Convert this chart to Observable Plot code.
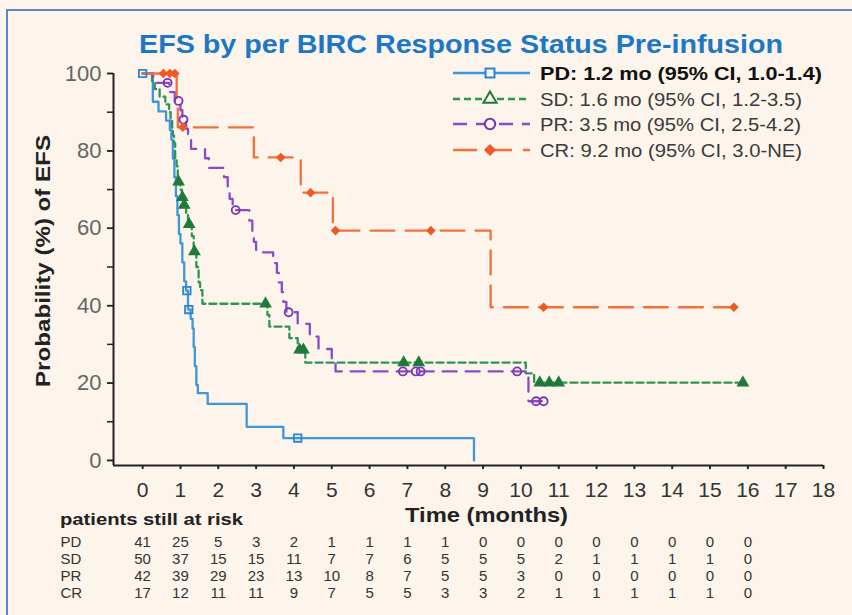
<!DOCTYPE html>
<html><head><meta charset="utf-8">
<script src="https://cdn.jsdelivr.net/npm/d3@7"></script>
<script src="https://cdn.jsdelivr.net/npm/@observablehq/plot@0.6"></script>
<style>
html,body{margin:0;padding:0;background:#fdf4eb;}
#wrap{position:relative;width:852px;height:615px;overflow:hidden;background:#fdf4eb;font-family:"Liberation Sans",Arial,sans-serif;}
#border{position:absolute;left:6px;top:9px;width:900px;height:700px;border-left:2px solid #5a86c3;border-top:2px solid #5a86c3;}
#main{position:absolute;left:0;top:0;}
#risk{position:absolute;left:0;top:530px;}
#overlay{position:absolute;left:0;top:0;pointer-events:none;}
</style>
</head><body>
<div id="wrap">
  <div id="border"></div>
  <div id="main"></div>
  <div id="risk"></div>
  <svg id="overlay" width="852" height="615"></svg>
</div>
<script>
// ---------- data ----------
const groups = ["PD", "SD", "PR", "CR"];
const legendLabels = [
  "PD: 1.2 mo (95% CI, 1.0-1.4)",
  "SD: 1.6 mo (95% CI, 1.2-3.5)",
  "PR: 3.5 mo (95% CI, 2.5-4.2)",
  "CR: 9.2 mo (95% CI, 3.0-NE)"
];
const titleText = "EFS by per BIRC Response Status Pre-infusion";
const yTitle = "Probability (%) of EFS";
const xTitle = "Time (months)";
const riskTitle = "patients still at risk";

// Kaplan-Meier step points (time in months, survival %)
const pdTime = [0, 0.27, 0.42, 0.62, 0.72, 0.76, 0.8, 0.84, 0.88, 0.92, 0.96, 1.0, 1.05, 1.1, 1.15, 1.2, 1.27, 1.32, 1.35, 1.38, 1.42, 1.46, 1.72, 2.75, 3.72, 8.76];
const pdSurv = [100, 92.7, 90.2, 87.8, 85.4, 82.9, 78.0, 73.2, 68.3, 63.4, 58.5, 56.1, 51.2, 46.3, 43.9, 39.0, 36.6, 34.1, 29.3, 24.4, 19.5, 17.4, 14.6, 8.7, 5.8, 0];
const pdCensTime = [0, 1.17, 1.22, 4.1];
const pdCensSurv = [100, 43.9, 39.0, 5.8];

const sdTime = [0, 0.25, 0.32, 0.45, 0.6, 0.7, 0.74, 0.78, 0.8, 0.83, 0.86, 0.9, 0.93, 1.0, 1.04, 1.08, 1.15, 1.2, 1.3, 1.35, 1.42, 1.48, 1.52, 1.58, 3.3, 3.35, 3.88, 4.1, 4.3, 10.13, 10.35, 15.87];
const sdSurv = [100, 98, 96, 94, 92, 90, 88, 86, 84, 82, 78, 76, 72, 70, 68, 66, 64, 61, 58, 54, 50, 46, 44, 40.5, 37.6, 34.6, 31.6, 28.6, 25.3, 22.5, 20.1, 20.1];
const sdCensTime = [0.95, 1.05, 1.1, 1.23, 1.37, 3.25, 4.15, 4.25, 6.9, 7.3, 10.5, 10.75, 11.0, 15.87];
const sdCensSurv = [72, 68, 66, 61, 54, 40.5, 28.6, 28.6, 25.3, 25.3, 20.1, 20.1, 20.1, 20.1];

const prTime = [0, 0.28, 0.7, 0.85, 1.0, 1.05, 1.15, 1.2, 1.28, 1.65, 1.75, 2.15, 2.25, 2.3, 2.38, 2.82, 2.9, 2.94, 3.0, 3.45, 3.55, 3.6, 3.68, 3.72, 3.8, 4.1, 4.42, 4.65, 5.0, 5.1, 10.2, 10.6];
const prSurv = [100, 97.6, 95.2, 92.9, 90.5, 88.1, 85.7, 83.3, 80.5, 78.1, 75.6, 73.2, 70.5, 67.6, 64.7, 62.0, 59.3, 56.5, 53.8, 51.0, 48.5, 46.0, 43.5, 41.0, 38.3, 35.3, 32.0, 28.8, 25.8, 23.0, 15.3, 15.3];
const prCensTime = [0.66, 0.95, 1.08, 2.46, 3.86, 6.88, 7.22, 7.35, 9.9, 10.4, 10.6];
const prCensSurv = [97.6, 92.9, 88.1, 64.7, 38.3, 23.0, 23.0, 23.0, 23.0, 15.3, 15.3];

const crTime = [0, 0.9, 0.93, 2.94, 4.18, 5.03, 9.2, 15.65];
const crSurv = [100, 93.3, 86.1, 78.3, 69.2, 59.4, 39.6, 39.6];
const crCensTime = [0.55, 0.72, 0.85, 1.06, 3.65, 4.44, 5.1, 7.62, 10.6, 15.63];
const crCensSurv = [100, 100, 100, 86.1, 78.3, 69.2, 59.4, 59.4, 39.6, 39.6];

// patients still at risk
const riskMonths = [0, 1, 2, 3, 4, 5, 6, 7, 8, 9, 10, 11, 12, 13, 14, 15, 16];
const riskPD = [41, 25, 5, 3, 2, 1, 1, 1, 1, 0, 0, 0, 0, 0, 0, 0, 0];
const riskSD = [50, 37, 15, 15, 11, 7, 7, 6, 5, 5, 5, 2, 1, 1, 1, 1, 0];
const riskPR = [42, 39, 29, 23, 13, 10, 8, 7, 5, 5, 3, 0, 0, 0, 0, 0, 0];
const riskCR = [17, 12, 11, 11, 9, 7, 5, 5, 3, 3, 2, 1, 1, 1, 1, 1, 0];

// axis ticks
const xTicks = [0, 1, 2, 3, 4, 5, 6, 7, 8, 9, 10, 11, 12, 13, 14, 15, 16, 17, 18];
const yTicksMajor = [0, 20, 40, 60, 80, 100];
const yTicksMinor = [0, 10, 20, 30, 40, 50, 60, 70, 80, 90, 100];

// ---------- styles ----------
const lineColors = ["#3f95de", "#2f9553", "#8a4cc6", "#f2703c"];
const markColors = ["#2d84d4", "#1f7a3c", "#7636b6", "#ee5a26"];
const dashes = [null, "7,4", "14,9", "24,11"];
const symbols = ["square", "triangle", "circle", "diamond2"];
const symbolR = [4.2, 3.6, 4, 3.2];
const filled = [false, true, false, true];
const legendSymbols = [d3.symbolSquare, d3.symbolTriangle, d3.symbolCircle, d3.symbolDiamond2];
const legendSymbolSize = [80, 75, 85, 55];

// ---------- build ----------
const curveSets = [[pdTime, pdSurv], [sdTime, sdSurv], [prTime, prSurv], [crTime, crSurv]];
const censSets = [[pdCensTime, pdCensSurv], [sdCensTime, sdCensSurv], [prCensTime, prCensSurv], [crCensTime, crCensSurv]];
const riskSets = [riskPD, riskSD, riskPR, riskCR];

const xDomain = [-0.77, 18];
const yDomain = [-1.3, 100];
const font = "Liberation Sans, Arial, sans-serif";

const marks = [];
marks.push(Plot.axisY({ticks: yTicksMinor, tickSize: 6, tickFormat: () => "", stroke: "#222", strokeWidth: 1.5, label: null}));
marks.push(Plot.axisY({ticks: yTicksMajor, tickSize: 6, tickPadding: 6, fontSize: 22, fill: "#666", stroke: "#222", strokeWidth: 1.5, label: null}));
marks.push(Plot.axisX({ticks: xTicks, tickSize: 4, tickPadding: 13, fontSize: 21, fill: "#333", stroke: "#222", strokeWidth: 2, label: null}));
marks.push(Plot.ruleX([xDomain[0]], {stroke: "#222", strokeWidth: 2}));
marks.push(Plot.ruleY([yDomain[0]], {stroke: "#222", strokeWidth: 2.2}));

groups.forEach((g, i) => {
  const [ts, ss] = curveSets[i];
  const data = ts.map((t, k) => ({t, s: ss[k]}));
  marks.push(Plot.line(data, {x: "t", y: "s", curve: "step-after", stroke: lineColors[i], strokeWidth: 2.3, strokeDasharray: dashes[i] || undefined}));
});
groups.forEach((g, i) => {
  const [ts, ss] = censSets[i];
  const data = ts.map((t, k) => ({t, s: ss[k]}));
  marks.push(Plot.dot(data, {x: "t", y: "s", symbol: symbols[i], r: symbolR[i], stroke: markColors[i], strokeWidth: 1.8, fill: filled[i] ? markColors[i] : "none"}));
});

const main = Plot.plot({
  width: 852, height: 500,
  marginTop: 73, marginBottom: 35, marginLeft: 113, marginRight: 29,
  x: {domain: xDomain},
  y: {domain: yDomain},
  style: {background: "transparent", fontFamily: font, overflow: "visible"},
  marks
});
document.getElementById("main").appendChild(main);

// risk table
const riskData = groups.flatMap((g, i) => riskMonths.map((m, k) => ({g, m, n: riskSets[i][k]})));
const risk = Plot.plot({
  width: 852, height: 82,
  marginTop: 0, marginBottom: 0, marginLeft: 113, marginRight: 29,
  x: {domain: xDomain, axis: null},
  y: {type: "point", domain: groups, range: [11, 63], padding: 0, axis: null},
  style: {background: "transparent", fontFamily: font, overflow: "visible"},
  marks: [
    Plot.text(riskData, {x: "m", y: "g", text: d => String(d.n), fontSize: 15, fill: "#333"}),
    Plot.text(groups, {y: d => d, text: d => d, frameAnchor: "left", dx: -53, textAnchor: "start", fontSize: 15, fill: "#333"})
  ]
});
document.getElementById("risk").appendChild(risk);

// overlay texts + legend
const ov = d3.select("#overlay");
function label(txt, x, y, size, weight, fill, len, anchor, rotate) {
  const t = ov.append("text")
    .attr("transform", `translate(${x},${y})` + (rotate ? ` rotate(${rotate})` : ""))
    .attr("dy", "0.35em")
    .attr("text-anchor", anchor)
    .attr("font-family", font).attr("font-size", size).attr("font-weight", weight)
    .attr("fill", fill).text(txt);
  if (len) t.attr("textLength", len).attr("lengthAdjust", "spacingAndGlyphs");
  return t;
}
label(titleText, 461, 44, 26, "bold", "#1b78c8", 644, "middle");
label(yTitle, 43, 261, 21, "bold", "#222", 252, "middle", -90);
label(xTitle, 486.5, 515, 21, "bold", "#222", 163, "middle");
label(riskTitle, 60, 519, 16, "bold", "#222", 183, "start");

const rowY = [73, 99, 124, 150];
const legendLen = [282, 262, 261, 262];
groups.forEach((g, i) => {
  const y = rowY[i];
  ov.append("line").attr("x1", 453).attr("x2", 530).attr("y1", y).attr("y2", y)
    .attr("stroke", lineColors[i]).attr("stroke-width", 2.3)
    .attr("stroke-dasharray", dashes[i] || null);
  ov.append("path").attr("transform", `translate(490,${y})`)
    .attr("d", d3.symbol(legendSymbols[i], legendSymbolSize[i])())
    .attr("fill", filled[i] && i === 3 ? markColors[i] : "#fdf4eb")
    .attr("stroke", markColors[i]).attr("stroke-width", 2);
  label(legendLabels[i], 540, y, 19, i === 0 ? "bold" : "normal", i === 0 ? "#111" : "#3a3a3a", legendLen[i], "start");
});
</script>
</body></html>
